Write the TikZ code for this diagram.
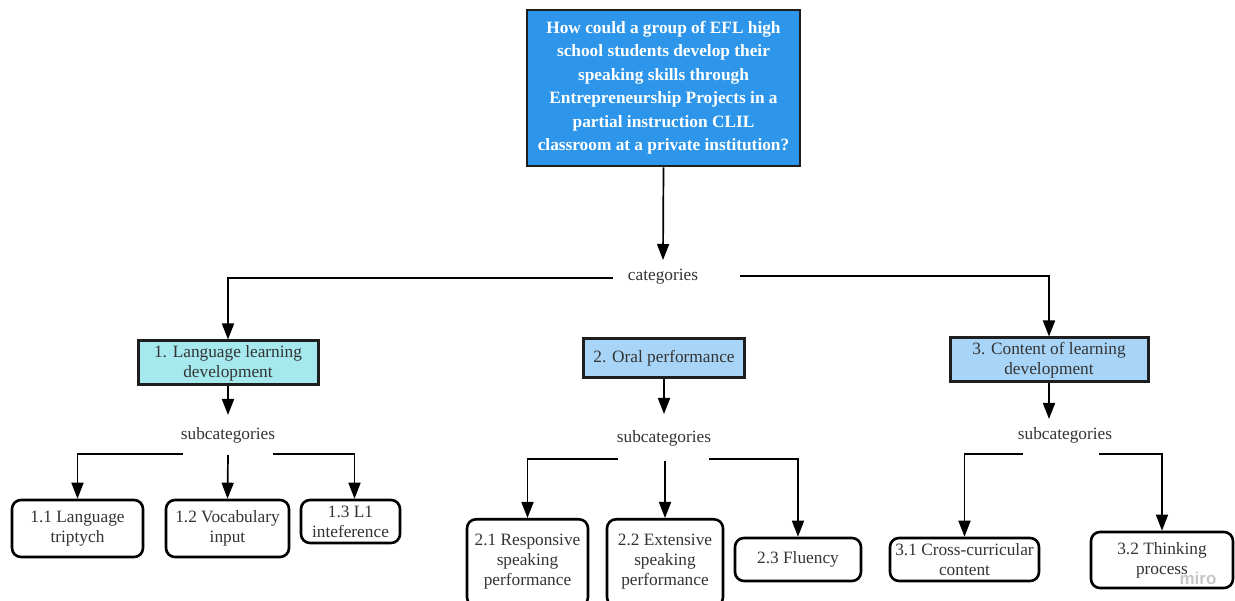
\documentclass[tikz,border=0pt]{standalone}
\usepackage{fontspec}
\setmainfont{Liberation Serif}
\newfontfamily\bodyfont{Liberation Serif}
\newfontfamily\markfont{Liberation Sans}
\usetikzlibrary{arrows.meta,calc}
\definecolor{qblue}{HTML}{2D96EA}
\definecolor{cyanbox}{HTML}{A5E9EE}
\definecolor{skybox}{HTML}{A8D5F7}
\definecolor{ink}{HTML}{333333}
\definecolor{edge}{HTML}{1E1E1E}
\begin{document}
\begin{tikzpicture}[x=1pt,y=-1pt,
  every node/.style={font=\bodyfont\fontsize{17.3}{20}\selectfont, text=ink},
  question/.style={draw=edge, line width=2.8pt, fill=qblue, text=white,
    font=\bodyfont\bfseries\fontsize{17.3}{23.5}\selectfont, align=center,
    minimum width=273pt, minimum height=156pt, inner sep=0pt},
  catbox/.style={draw=edge, line width=3pt, align=center, inner sep=0pt},
  leaf/.style={draw=black, line width=2.6pt, rounded corners=9pt, fill=white,
    align=center, inner sep=0pt},
  plaintext/.style={inner sep=0pt},
  arr/.style={line width=1.7pt, draw=black, -{Triangle[length=16pt,width=12pt]}}]
\useasboundingbox (0,0) rectangle (1235,601);
\clip (0,0) rectangle (1235,601);

% research question
\node[question] (q) at (663.5,88) {How could a group of EFL high\\school students develop their\\speaking skills through\\Entrepreneurship Projects in a\\partial instruction CLIL\\classroom at a private institution?};
\node[plaintext] (cat) at (663,277) {categories};

% categories
\node[catbox, fill=cyanbox, minimum width=180pt, minimum height=44pt] (c1) at (228,363) {1. Language learning\\development};
\node[catbox, fill=skybox, minimum width=161pt, minimum height=39pt] (c2) at (664,358) {2. Oral performance};
\node[catbox, fill=skybox, minimum width=198pt, minimum height=44pt] (c3) at (1049,360) {3. Content of learning\\development};

\node[plaintext] (sub1) at (228,435) {subcategories};
\node[plaintext] (sub2) at (664,438) {subcategories};
\node[plaintext] (sub3) at (1065,435) {subcategories};

% subcategories
\node[leaf, minimum width=131pt, minimum height=57pt] (l11) at (77.5,528.5) {1.1 Language\\triptych};
\node[leaf, minimum width=123pt, minimum height=57pt] (l12) at (227.5,528.5) {1.2 Vocabulary\\input};
\node[leaf, minimum width=99pt, minimum height=43pt] (l13) at (350.5,521.5) {1.3 L1\\inteference};
\node[leaf, minimum width=121pt, minimum height=87pt, anchor=north] (l21) at (527.5,518) {};
\node[align=center] (t21) at (527.5,562) {2.1 Responsive\\speaking\\performance};
\node[leaf, minimum width=116pt, minimum height=87pt, anchor=north] (l22) at (665,518) {};
\node[align=center] (t22) at (665,562) {2.2 Extensive\\speaking\\performance};
\node[leaf, minimum width=126pt, minimum height=43pt] (l23) at (798,559.5) {2.3 Fluency};
\node[leaf, minimum width=149pt, minimum height=43pt] (l31) at (964.5,559.5) {3.1 Cross-curricular\\content};
\node[leaf, minimum width=142pt, minimum height=56pt] (l32) at (1162,560) {3.2 Thinking\\process};
\node[plaintext, font=\markfont\bfseries\fontsize{17}{17}\selectfont, text=black!22] (mark) at (1198,578) {miro};

% question to categories
\draw[arr] (q.south) -- ($(cat)+(0,-17)$);
\draw[arr] ($(cat.west)+(-15,1)$) -| (c1.north);
\draw[arr] ($(cat.east)+(42,-1)$) -| (c3.north);

% categories to subcategory labels
\draw[arr] (c1.south) -- ($(sub1)+(0,-20)$);
\draw[arr] (c2.south) -- ($(sub2)+(0,-24)$);
\draw[arr] (c3.south) -- ($(c3.south |- sub3)+(0,-16)$);

% branch 1
\draw[arr] ($(sub1)+(-45,19)$) -| (l11.north);
\draw[arr] ($(sub1)+(0,20)$) -- (l12.north);
\draw[arr] ($(sub1)+(45,19)$) -| ([xshift=4pt]l13.north);

% branch 2
\draw[arr] ($(sub2)+(-46,21)$) -| (l21.north);
\draw[arr] ($(sub2)+(1,23)$) -- (l22.north);
\draw[arr] ($(sub2)+(45,21)$) -| (l23.north);

% branch 3
\draw[arr] ($(sub3)+(-42,19)$) -| (l31.north);
\draw[arr] ($(sub3)+(34,19)$) -| (l32.north);
\end{tikzpicture}
\end{document}
